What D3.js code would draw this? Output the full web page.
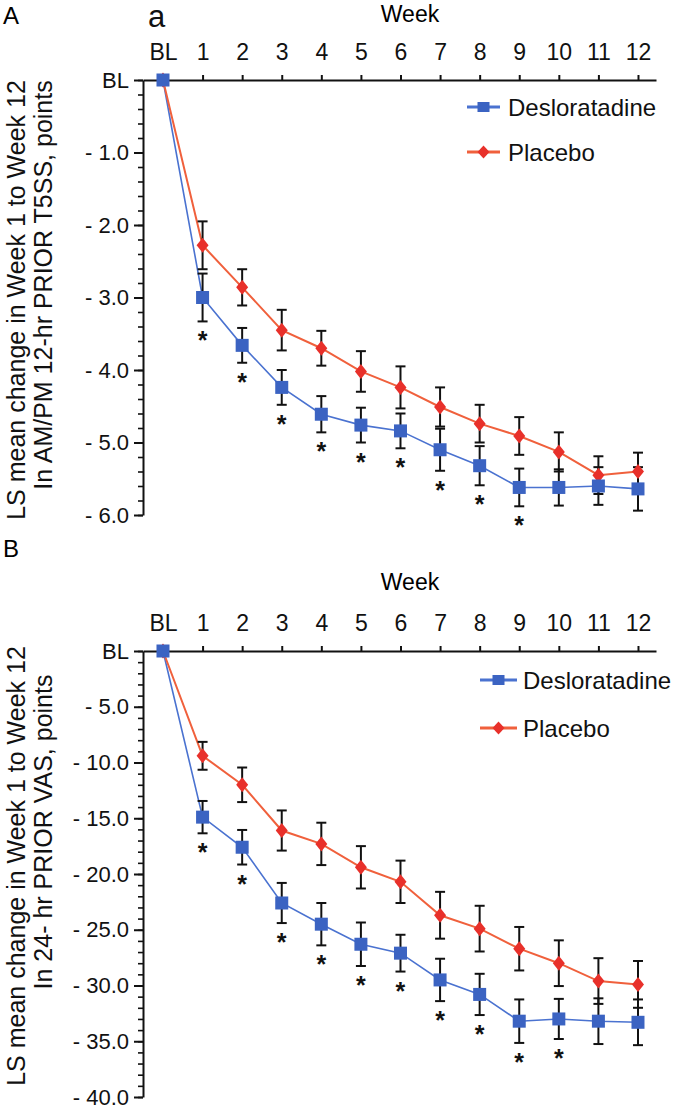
<!DOCTYPE html>
<html><head><meta charset="utf-8">
<script src="https://cdn.jsdelivr.net/npm/d3@7"></script>
<style>body{margin:0;background:#fff}svg{display:block}</style>
</head><body><svg id="c" width="685" height="1115"></svg>
<script>
// ---------- data ----------
const weeks = [0,1,2,3,4,5,6,7,8,9,10,11,12];
const weekLabels = ["BL","1","2","3","4","5","6","7","8","9","10","11","12"];
const seriesNames = ["Desloratadine","Placebo"];

// Panel A: T5SS
const desloA    = [0,-3.00,-3.66,-4.24,-4.61,-4.76,-4.84,-5.10,-5.32,-5.62,-5.62,-5.60,-5.64];
const desloAse  = [0, 0.33, 0.24, 0.24, 0.25, 0.24, 0.24, 0.29, 0.27, 0.26, 0.25, 0.26, 0.30];
const placeboA  = [0,-2.28,-2.86,-3.45,-3.70,-4.02,-4.24,-4.51,-4.74,-4.91,-5.13,-5.45,-5.40];
const placeboAse= [0, 0.33, 0.25, 0.28, 0.24, 0.28, 0.29, 0.27, 0.26, 0.26, 0.27, 0.26, 0.26];
const starsA    = [1,2,3,4,5,6,7,8,9];
const yTicksA   = [0,-1,-2,-3,-4,-5,-6];
const yLabelsA  = ["BL","- 1.0","- 2.0","- 3.0","- 4.0","- 5.0","- 6.0"];

// Panel B: VAS
const desloB    = [0,-14.9,-17.6,-22.6,-24.5,-26.3,-27.1,-29.5,-30.8,-33.2,-33.0,-33.2,-33.3];
const desloBse  = [0, 1.45, 1.55, 1.80, 1.90, 1.95, 1.65, 1.90, 1.85, 1.95, 1.80, 2.05, 2.05];
const placeboB  = [0,-9.4,-12.0,-16.1,-17.3,-19.4,-20.7,-23.7,-24.9,-26.7,-28.0,-29.6,-29.9];
const placeboBse= [0, 1.25, 1.55, 1.80, 1.90, 1.90, 1.90, 2.10, 2.05, 1.95, 2.05, 2.05, 2.10];
const starsB    = [1,2,3,4,5,6,7,8,9,10];
const yTicksB   = [0,-5,-10,-15,-20,-25,-30,-35,-40];
const yLabelsB  = ["BL","- 5.0","- 10.0","- 15.0","- 20.0","- 25.0","- 30.0","- 35.0","- 40.0"];

// ---------- style ----------
const FONT = '"Liberation Sans", Arial, sans-serif';
const BLUE = "#3b63c2", BLUE_LINE = "#4a72d0";
const RED = "#e8302a", RED_LINE = "#f0603c";

const svg = d3.select("#c").attr("font-family", FONT);

function diamondPath(w,h){ return `M0,${-h}L${w},0L0,${h}L${-w},0Z`; }

function panel(cfg){
  const g = svg.append("g");
  const x = d3.scaleLinear().domain([-0.505, 12.455]).range([143, 656]);
  const y = d3.scaleLinear().domain([cfg.yMin, 0]).range([cfg.yBottom, cfg.yTop]);

  // panel letter + "Week"
  g.append("text").attr("x", 3).attr("y", cfg.letterY).attr("font-size", 24).text(cfg.letter);
  g.append("text").attr("x", 410).attr("y", cfg.weekY).attr("font-size", 23)
    .attr("text-anchor","middle").text("Week");

  // x axis (top)
  const gx = g.append("g").attr("transform", `translate(0,${cfg.yTop})`)
    .call(d3.axisTop(x).tickValues(weeks).tickFormat((d,i)=>weekLabels[i])
      .tickSize(5).tickSizeOuter(0).tickPadding(15));
  gx.attr("font-size", 23).attr("font-family", FONT);
  gx.selectAll("path,line").attr("stroke","#111").attr("stroke-width",2);
  gx.selectAll("text").attr("fill","#111");

  // y axis major
  const gy = g.append("g").attr("transform", `translate(${x(-0.505)},0)`)
    .call(d3.axisLeft(y).tickValues(cfg.yTicks).tickFormat((d,i)=>cfg.yLabels[i])
      .tickSize(9).tickSizeOuter(0).tickPadding(5));
  gy.attr("font-size", 22).attr("font-family", FONT);
  gy.selectAll("path,line").attr("stroke","#111").attr("stroke-width",2);
  gy.selectAll("text").attr("fill","#111");
  // y axis minor
  const gm = g.append("g").attr("transform", `translate(${x(-0.505)},0)`)
    .call(d3.axisLeft(y).tickValues(cfg.minor).tickFormat("").tickSize(5).tickSizeOuter(0));
  gm.select(".domain").remove();
  gm.selectAll("line").attr("stroke","#111").attr("stroke-width",1.6);

  // y titles
  cfg.titles.forEach(t => {
    g.append("text").attr("transform", `translate(${t.x},${t.cy}) rotate(-90)`)
      .attr("text-anchor","middle").attr("dominant-baseline","central")
      .attr("font-size", 25).attr("fill","#111").text(t.text);
  });

  const line = d3.line().x((d,i)=>x(weeks[i])).y(d=>y(d));
  g.append("path").datum(cfg.deslo).attr("d", line).attr("fill","none")
    .attr("stroke", BLUE_LINE).attr("stroke-width", 1.6);
  g.append("path").datum(cfg.placebo).attr("d", line).attr("fill","none")
    .attr("stroke", RED_LINE).attr("stroke-width", 2);

  // error bars
  const eb = [];
  weeks.forEach((w,i)=>{ if(i>0){ eb.push({w, v:cfg.placebo[i], se:cfg.placeboSe[i]}); eb.push({w, v:cfg.deslo[i], se:cfg.desloSe[i]}); }});
  const ge = g.append("g").attr("stroke","#111").attr("stroke-width",2);
  eb.forEach(d=>{
    const cx = x(d.w), y1 = y(d.v + d.se), y2 = y(d.v - d.se);
    ge.append("line").attr("x1",cx).attr("x2",cx).attr("y1",y1).attr("y2",y2);
    ge.append("line").attr("x1",cx-5).attr("x2",cx+5).attr("y1",y1).attr("y2",y1);
    ge.append("line").attr("x1",cx-5).attr("x2",cx+5).attr("y1",y2).attr("y2",y2);
  });

  // markers
  g.selectAll(".pd").data(cfg.placebo).join("path")
    .attr("d", diamondPath(6,7.5))
    .attr("transform",(d,i)=>`translate(${x(weeks[i])},${y(d)})`)
    .attr("fill", RED);
  g.selectAll(".bs").data(cfg.deslo).join("rect")
    .attr("x",(d,i)=>x(weeks[i])-6.5).attr("y",d=>y(d)-6.5)
    .attr("width",13).attr("height",13).attr("fill", BLUE);

  // significance stars
  g.selectAll(".st").data(cfg.stars).join("text")
    .attr("x", w=>x(w)).attr("y", w=>y(cfg.deslo[w]-cfg.desloSe[w]) + 28)
    .attr("text-anchor","middle").attr("font-size",25).attr("font-weight","bold")
    .attr("fill","#111").text("*");

  // legend
  const lg = g.append("g");
  seriesNames.forEach((name,i)=>{
    const ly = cfg.legend.y[i];
    const col = i===0 ? BLUE : RED;
    lg.append("line").attr("x1",cfg.legend.x1).attr("x2",cfg.legend.x2)
      .attr("y1",ly).attr("y2",ly).attr("stroke", i===0?BLUE_LINE:RED_LINE).attr("stroke-width",3);
    const mx = (cfg.legend.x1+cfg.legend.x2)/2;
    if(i===0) lg.append("rect").attr("x",mx-6).attr("y",ly-5).attr("width",12).attr("height",10).attr("fill",col);
    else lg.append("path").attr("d",diamondPath(6,6.5)).attr("transform",`translate(${mx},${ly})`).attr("fill",col);
    lg.append("text").attr("x",cfg.legend.tx).attr("y",ly).attr("dominant-baseline","central")
      .attr("font-size",24).attr("fill","#111").text(name);
  });
  return g;
}

panel({
  letter:"A", letterY:24, weekY:22, yTop:80, yBottom:515, yMin:-6,
  yTicks:yTicksA, yLabels:yLabelsA, minor:d3.range(0,-6.01,-0.2),
  deslo:desloA, desloSe:desloAse, placebo:placeboA, placeboSe:placeboAse, stars:starsA,
  titles:[{x:16, cy:300, text:"LS mean change in Week 1 to Week 12"},
          {x:43, cy:285, text:"In AM/PM 12-hr PRIOR T5SS, points"}],
  legend:{x1:467, x2:500, tx:508, y:[107,152]}
});
svg.append("text").attr("x",148).attr("y",27).attr("font-size",31).attr("fill","#111").text("a");

panel({
  letter:"B", letterY:557, weekY:590, yTop:651, yBottom:1097, yMin:-40,
  yTicks:yTicksB, yLabels:yLabelsB, minor:d3.range(0,-40.01,-1),
  deslo:desloB, desloSe:desloBse, placebo:placeboB, placeboSe:placeboBse, stars:starsB,
  titles:[{x:16, cy:866, text:"LS mean change in Week 1 to Week 12"},
          {x:43, cy:832, text:"In 24- hr PRIOR VAS, points"}],
  legend:{x1:480, x2:517, tx:523, y:[680,728]}
});
</script></body></html>
